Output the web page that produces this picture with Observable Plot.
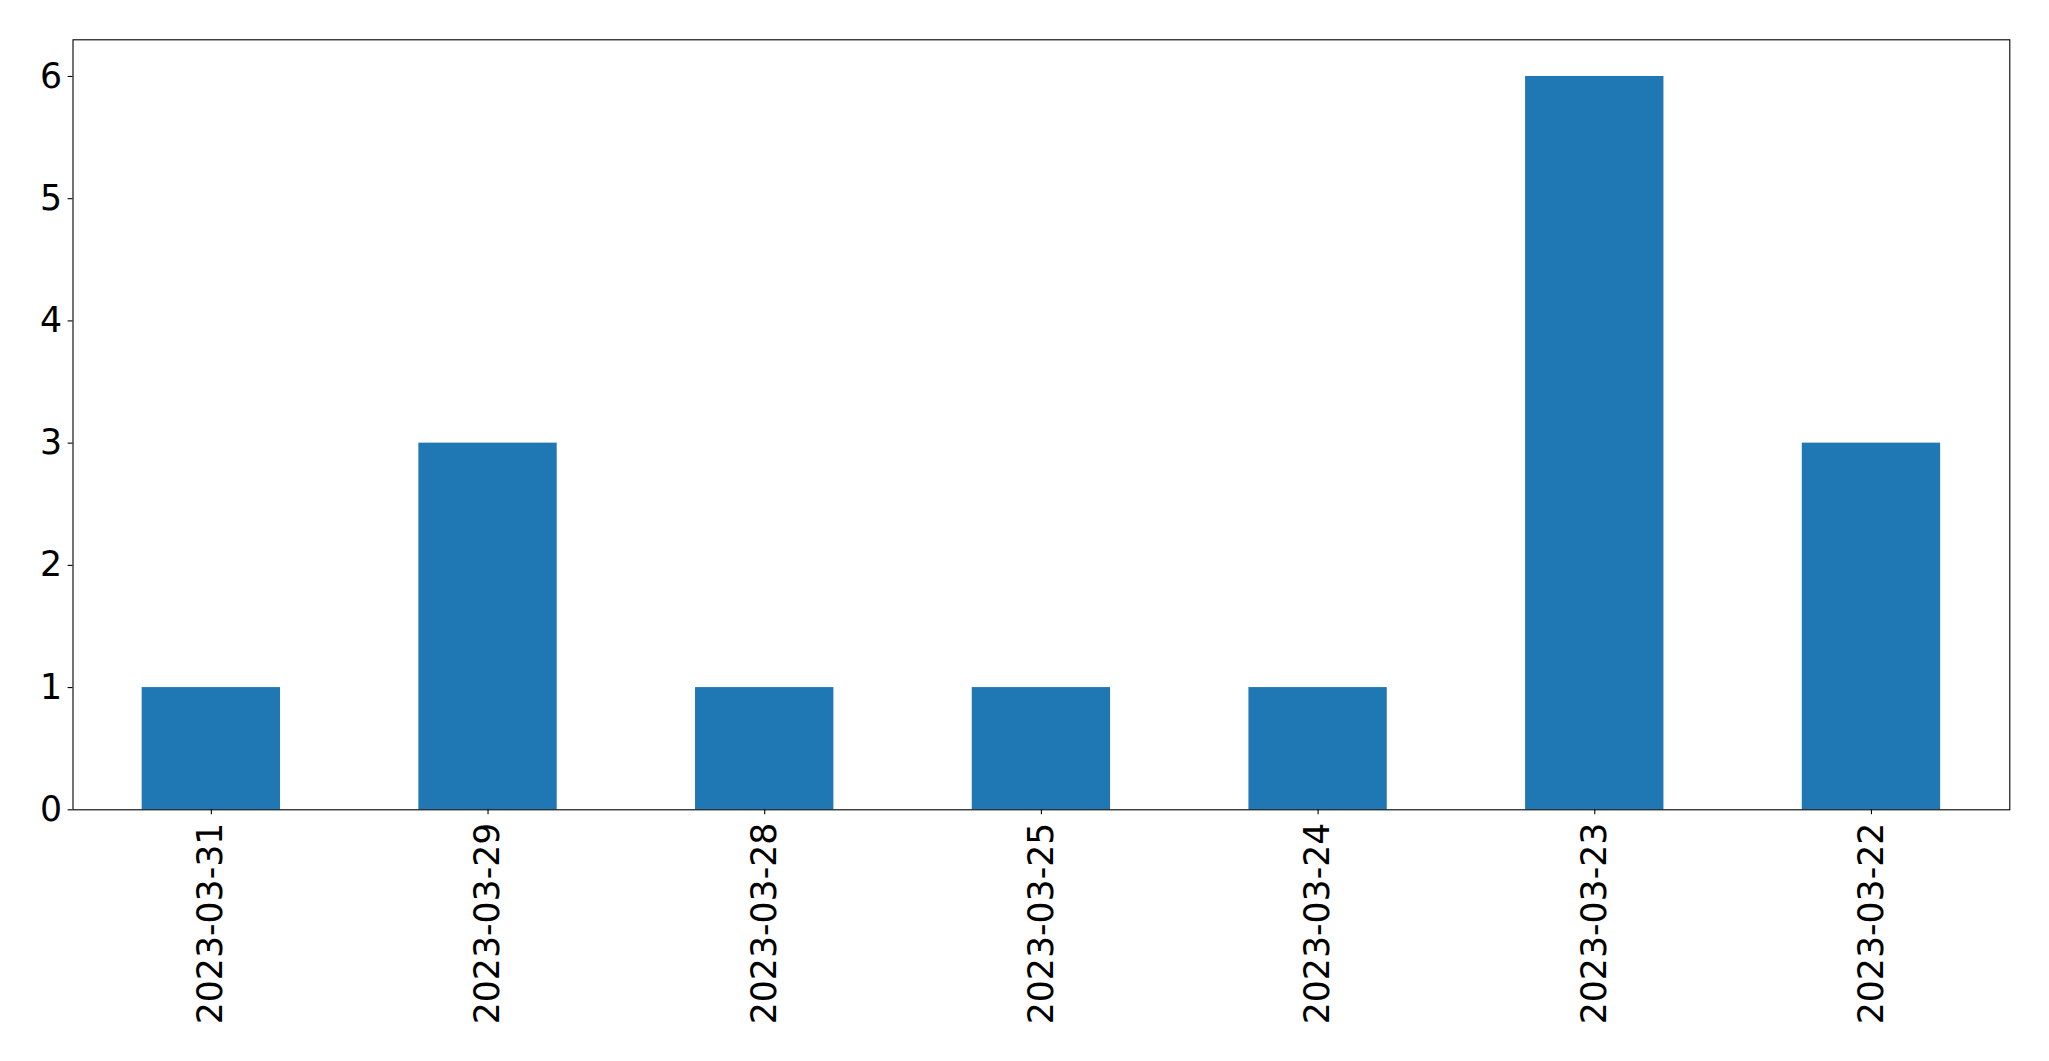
<!DOCTYPE html>
<html>
<head>
<meta charset="utf-8">
<script src="https://cdn.jsdelivr.net/npm/d3@7"></script>
<script src="https://cdn.jsdelivr.net/npm/@observablehq/plot@0.6"></script>
<style>
  html, body { margin: 0; padding: 0; background: #fff; }
  #chart svg { display: block; }
</style>
</head>
<body>
<div id="chart"></div>
<script>
const dates = ["2023-03-31", "2023-03-29", "2023-03-28", "2023-03-25", "2023-03-24", "2023-03-23", "2023-03-22"];
const counts = [1, 3, 1, 1, 1, 6, 3];
const yTicks = [0, 1, 2, 3, 4, 5, 6];

const data = dates.map((d, i) => ({date: d, count: counts[i]}));

const chart = Plot.plot({
  width: 2049,
  height: 1061,
  marginLeft: 72.5,
  marginRight: 39.7,
  marginTop: 39.3,
  marginBottom: 251.7,
  style: {fontFamily: "DejaVu Sans", fontSize: "34.7px", color: "black", background: "white"},
  x: {type: "band", domain: dates, paddingInner: 0.5, paddingOuter: 0.25, round: false, label: null},
  y: {domain: [0, 6.3], label: null},
  marks: [
    Plot.barY(data, {x: "date", y: "count", fill: "#1f77b4"}),
    Plot.axisY({ticks: yTicks, tickSize: 4.9, tickPadding: 6, fontSize: 34.7, tickFormat: d => String(d), label: null, stroke: "black", strokeWidth: 1.1, strokeOpacity: 1, fill: "black"}),
    Plot.axisX({tickSize: 4.9, tickPadding: 8, fontSize: 34.7, tickRotate: -90, label: null, stroke: "black", strokeWidth: 1.1, strokeOpacity: 1, fill: "black"}),
    Plot.frame({stroke: "black", strokeWidth: 1.1, strokeOpacity: 1})
  ]
});
document.getElementById("chart").appendChild(chart);
</script>
</body>
</html>
